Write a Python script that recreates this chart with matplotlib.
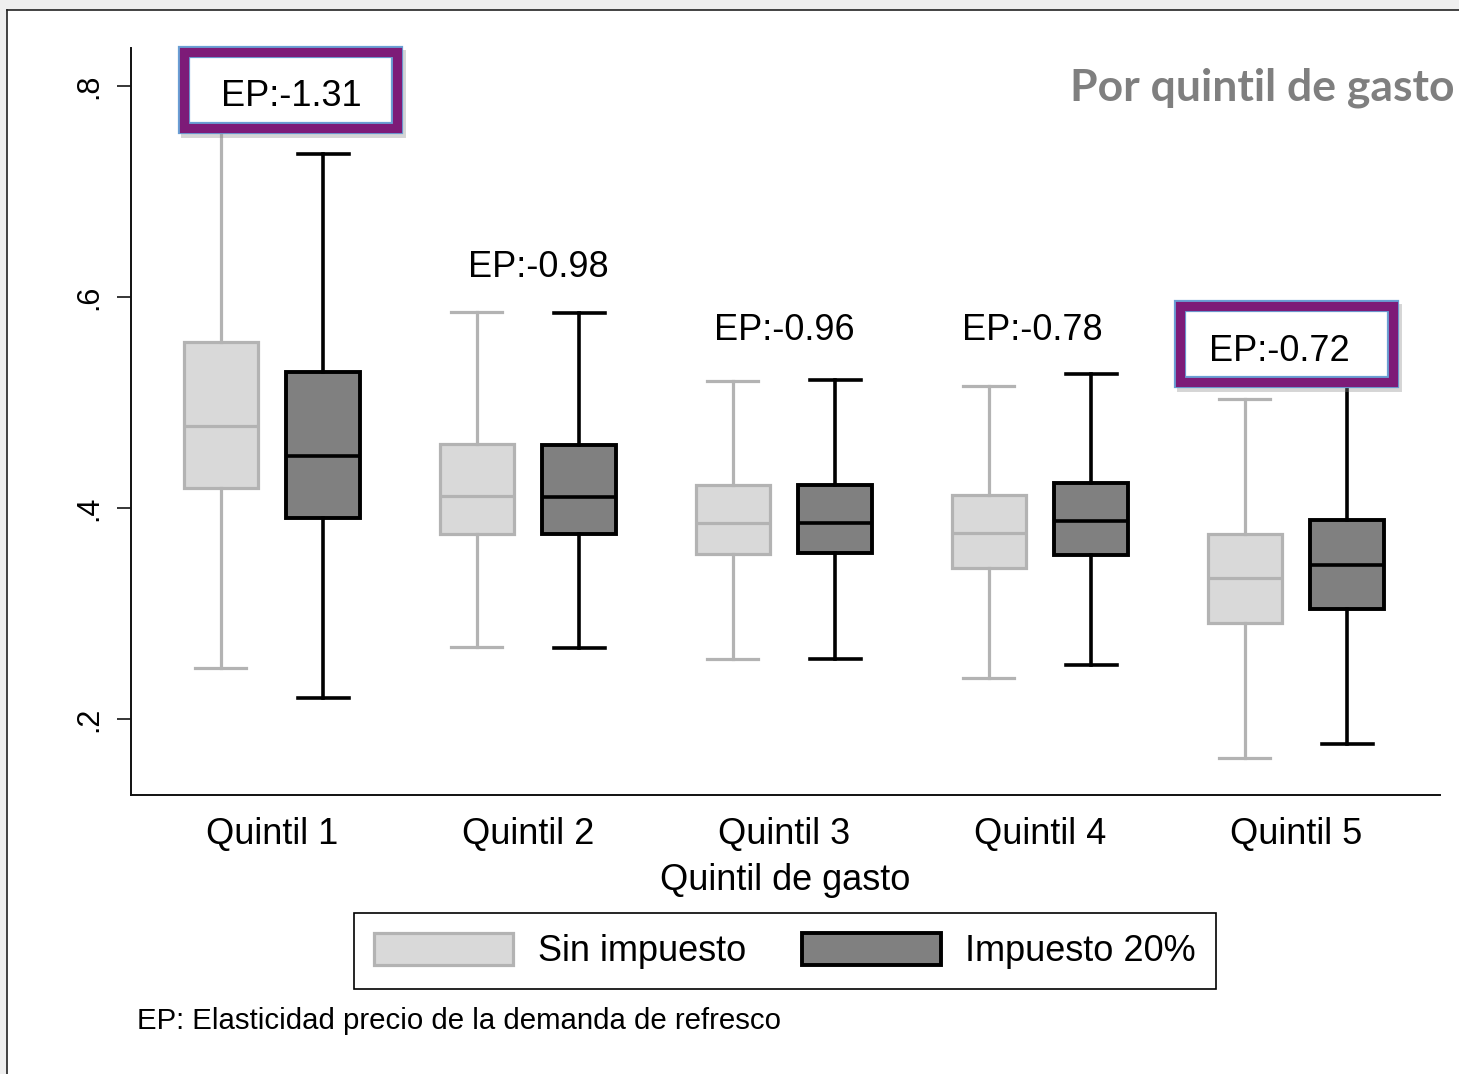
import matplotlib
matplotlib.use("Agg")
import matplotlib.pyplot as plt
import matplotlib.transforms as mtransforms
from matplotlib.patches import Rectangle, Patch
from matplotlib.lines import Line2D

# ---------------- data ----------------
quintiles = ["Quintil 1", "Quintil 2", "Quintil 3", "Quintil 4", "Quintil 5"]
series_names = ["Sin impuesto", "Impuesto 20%"]

sin_whislo = [0.248, 0.268, 0.257, 0.239, 0.163]
sin_q1     = [0.419, 0.375, 0.356, 0.343, 0.291]
sin_med    = [0.478, 0.411, 0.386, 0.376, 0.334]
sin_q3     = [0.557, 0.461, 0.422, 0.412, 0.375]
sin_whishi = [0.800, 0.586, 0.520, 0.516, 0.503]

imp_whislo = [0.220, 0.267, 0.257, 0.251, 0.176]
imp_q1     = [0.391, 0.375, 0.357, 0.355, 0.304]
imp_med    = [0.449, 0.410, 0.386, 0.388, 0.346]
imp_q3     = [0.529, 0.460, 0.422, 0.424, 0.389]
imp_whishi = [0.736, 0.585, 0.521, 0.527, 0.530]

ep_labels    = ["EP:-1.31", "EP:-0.98", "EP:-0.96", "EP:-0.78", "EP:-0.72"]
ep_highlight = [True, False, False, False, True]

y_ticks = [0.2, 0.4, 0.6, 0.8]
y_ticklabels = [".2", ".4", ".6", ".8"]

# ---------------- layout ----------------
W, H = 1459, 1074
DPI = 100
FONT = "Liberation Sans"
plt.rcParams["font.family"] = [FONT, "DejaVu Sans"]

fig = plt.figure(figsize=(W / DPI, H / DPI), dpi=DPI)
fig.patch.set_facecolor("white")

ax_l, ax_r, ax_b, ax_t = 131, 1440, 795, 48
ax = fig.add_axes([ax_l / W, 1 - ax_b / H, (ax_r - ax_l) / W, (ax_b - ax_t) / H])
ax.set_facecolor("white")

offset = 0.2
box_w = 0.29
cap_w = 0.2


def stats(lo, q1, med, q3, hi):
    return [dict(whislo=a, q1=b, med=c, q3=d, whishi=e, fliers=[])
            for a, b, c, d, e in zip(lo, q1, med, q3, hi)]


pos = list(range(len(quintiles)))
light_fill, light_edge = "#d9d9d9", "#b3b3b3"
dark_fill, dark_edge = "#808080", "#000000"

ax.bxp(stats(sin_whislo, sin_q1, sin_med, sin_q3, sin_whishi),
       positions=[p - offset for p in pos], widths=box_w, capwidths=cap_w,
       showfliers=False, patch_artist=True, manage_ticks=False,
       boxprops=dict(facecolor=light_fill, edgecolor=light_edge, linewidth=2.3),
       whiskerprops=dict(color=light_edge, linewidth=2.3),
       capprops=dict(color=light_edge, linewidth=2.3),
       medianprops=dict(color=light_edge, linewidth=2.3))
ax.bxp(stats(imp_whislo, imp_q1, imp_med, imp_q3, imp_whishi),
       positions=[p + offset for p in pos], widths=box_w, capwidths=cap_w,
       showfliers=False, patch_artist=True, manage_ticks=False,
       boxprops=dict(facecolor=dark_fill, edgecolor=dark_edge, linewidth=2.8),
       whiskerprops=dict(color=dark_edge, linewidth=2.6),
       capprops=dict(color=dark_edge, linewidth=2.6),
       medianprops=dict(color=dark_edge, linewidth=2.6))

ax.set_xlim(-0.551, 4.5625)
ax.set_ylim(0.128, 0.836)

for s in ["top", "right"]:
    ax.spines[s].set_visible(False)
for s in ["left", "bottom"]:
    ax.spines[s].set_linewidth(1.4)
    ax.spines[s].set_color("#111111")

ax.set_yticks(y_ticks)
ax.set_yticklabels(y_ticklabels, rotation=90, va="center", fontsize=22)
ax.tick_params(axis="y", length=10, width=1.1, pad=9, direction="out")
ax.set_xticks(pos)
ax.set_xticklabels(quintiles, fontsize=26)
ax.tick_params(axis="x", length=0, pad=16)
ax.set_xlabel("Quintil de gasto", fontsize=26, labelpad=8)

# ---------------- EP annotations ----------------
ep_dx = [0.074, 0.04, 0.0, -0.03, -0.066]
ep_y = [0.7896, 0.6275, 0.5678, 0.5678, 0.5488]
box_shift_px = [0, 0, 0, 0, 7]     # horizontal shift of highlight box vs. text
box_px_w, box_px_h, box_px_dy = 213, 76, 7  # box centre sits above text centre

for i, (lab, hl) in enumerate(zip(ep_labels, ep_highlight)):
    xd, yd = pos[i] + ep_dx[i], ep_y[i]
    ax.text(xd, yd, lab, fontsize=26, ha="center", va="center",
            zorder=12, clip_on=False)
    if hl:
        tr = mtransforms.ScaledTranslation(xd, yd, ax.transData)
        base = mtransforms.Affine2D()
        x0 = -box_px_w / 2 + box_shift_px[i]
        y0 = -box_px_h / 2 + box_px_dy
        shadow = Rectangle((x0 + 3, y0 - 4), box_px_w, box_px_h,
                           transform=base + tr, facecolor="#888888",
                           edgecolor="#888888", linewidth=8.6, alpha=0.35,
                           zorder=8, clip_on=False)
        outer = Rectangle((x0, y0), box_px_w, box_px_h, transform=base + tr,
                          facecolor="white", edgecolor="#6a9fd4", linewidth=8.8,
                          zorder=9, clip_on=False, joinstyle="miter")
        inner = Rectangle((x0, y0), box_px_w, box_px_h, transform=base + tr,
                          facecolor="none", edgecolor="#7d1b78", linewidth=6.6,
                          zorder=10, clip_on=False, joinstyle="miter")
        for p in (shadow, outer, inner):
            ax.add_patch(p)

# ---------------- title / legend / note ----------------
fig.text(1455 / W, 1 - 88 / H, "Por quintil de gasto", ha="right", va="center",
         fontsize=32, fontweight="bold", color="#7f7f7f", family="Lato")

handles = [Patch(facecolor=light_fill, edgecolor=light_edge, linewidth=2.3),
           Patch(facecolor=dark_fill, edgecolor=dark_edge, linewidth=2.8)]
leg = fig.legend(handles, series_names, loc="center",
                 bbox_to_anchor=(785 / W, 1 - 951 / H), ncol=2, fontsize=26,
                 frameon=True, fancybox=False, edgecolor="black", framealpha=1,
                 handlelength=3.86, handleheight=1.0, handletextpad=0.67,
                 columnspacing=1.55, borderpad=0.55, borderaxespad=0)
leg.get_frame().set_linewidth(1.2)

fig.text(137 / W, 1 - 1021 / H, "EP: Elasticidad precio de la demanda de refresco",
         ha="left", va="center", fontsize=21.2)

# ---------------- outer frame ----------------
fig.patches.append(Rectangle((0, 1 - 10 / H), 1, 10 / H, transform=fig.transFigure,
                             facecolor="#efefef", edgecolor="none", zorder=0))
fig.patches.append(Rectangle((0, 0), 7 / W, 1, transform=fig.transFigure,
                             facecolor="#efefef", edgecolor="none", zorder=0))
fig.lines.append(Line2D([7 / W, 1], [1 - 10 / H, 1 - 10 / H], transform=fig.transFigure,
                        color="#222222", linewidth=1.2))
fig.lines.append(Line2D([7 / W, 7 / W], [0, 1 - 10 / H], transform=fig.transFigure,
                        color="#222222", linewidth=1.2))

fig.savefig("out.png", dpi=DPI, facecolor="white")
